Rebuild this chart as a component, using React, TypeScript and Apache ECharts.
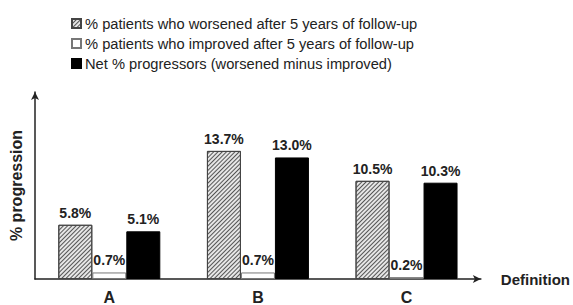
import React, { useEffect, useRef } from "react";
import * as echarts from "echarts";

const categories = ["A", "B", "C"];
const worsened = [5.8, 13.7, 10.5];
const improved = [0.7, 0.7, 0.2];
const netProgressors = [5.1, 13.0, 10.3];
const seriesNames = [
  "% patients who worsened after 5 years of follow-up",
  "% patients who improved after 5 years of follow-up",
  "Net % progressors (worsened minus improved)",
];

const FONT = "'Liberation Sans', Arial, sans-serif";

export default function App() {
  const ref = useRef<HTMLDivElement>(null);
  useEffect(() => {
    if (!ref.current) return;
    const chart = echarts.init(ref.current, null, { renderer: "svg" });
    const label = {
      show: true,
      position: "top",
      distance: 5,
      fontFamily: FONT,
      fontWeight: "bold",
      fontSize: 14,
      color: "#222",
      formatter: (p: any) => p.value.toFixed(1) + "%",
    };
    chart.setOption({
      animation: false,
      textStyle: { fontFamily: FONT },
      legend: {
        orient: "vertical",
        left: 66,
        top: 11,
        itemWidth: 9,
        itemHeight: 9,
        itemGap: 5,
        icon: "rect",
        textStyle: { fontFamily: FONT, fontSize: 14.7, color: "#222", padding: [0, 0, 0, -1] },
        data: seriesNames,
      },
      grid: { left: 32, right: 90, top: 92, bottom: 25, containLabel: false },
      xAxis: {
        type: "category",
        data: categories,
        name: "Definition",
        nameLocation: "end",
        nameGap: 20,
        nameTextStyle: { fontFamily: FONT, fontWeight: "bold", fontSize: 15, color: "#222", verticalAlign: "middle" },
        axisLine: { lineStyle: { color: "#222", width: 1.5 }, symbol: ["none", "arrow"], symbolSize: [6, 8] },
        axisTick: { show: false },
        axisLabel: { fontFamily: FONT, fontWeight: "bold", fontSize: 16, color: "#222", margin: 10 },
      },
      yAxis: {
        type: "value",
        min: 0,
        max: 20,
        name: "% progression",
        nameLocation: "middle",
        nameRotate: 90,
        nameGap: 11,
        nameTextStyle: { fontFamily: FONT, fontWeight: "bold", fontSize: 16, color: "#222" },
        axisLine: { show: true, lineStyle: { color: "#222", width: 1.5 }, symbol: ["none", "arrow"], symbolSize: [6, 8] },
        axisTick: { show: false },
        axisLabel: { show: false },
        splitLine: { show: false },
      },
      series: [
        {
          name: seriesNames[0],
          type: "bar",
          data: worsened,
          barWidth: 34,
          barGap: "0%",
          itemStyle: {
            color: "#e6e6e6",
            borderColor: "#444",
            borderWidth: 1,
            decal: {
              symbol: "rect",
              symbolSize: 1,
              color: "#555",
              dashArrayX: [1, 0],
              dashArrayY: [1, 2],
              rotation: -Math.PI / 4,
            },
          },
          label,
        },
        {
          name: seriesNames[1],
          type: "bar",
          data: improved,
          barWidth: 34,
          barGap: "0%",
          itemStyle: {
            color: "#ffffff",
            borderColor: "#777",
            borderWidth: 1,
          },
          label,
        },
        {
          name: seriesNames[2],
          type: "bar",
          data: netProgressors,
          barWidth: 34,
          barGap: "0%",
          itemStyle: { color: "#000", borderColor: "#000", borderWidth: 1 },
          label,
        },
      ],
    });
    return () => chart.dispose();
  }, []);
  return <div ref={ref} style={{ width: 573, height: 305, position: "absolute", left: 0, top: 0, background: "#fff" }} />;
}
